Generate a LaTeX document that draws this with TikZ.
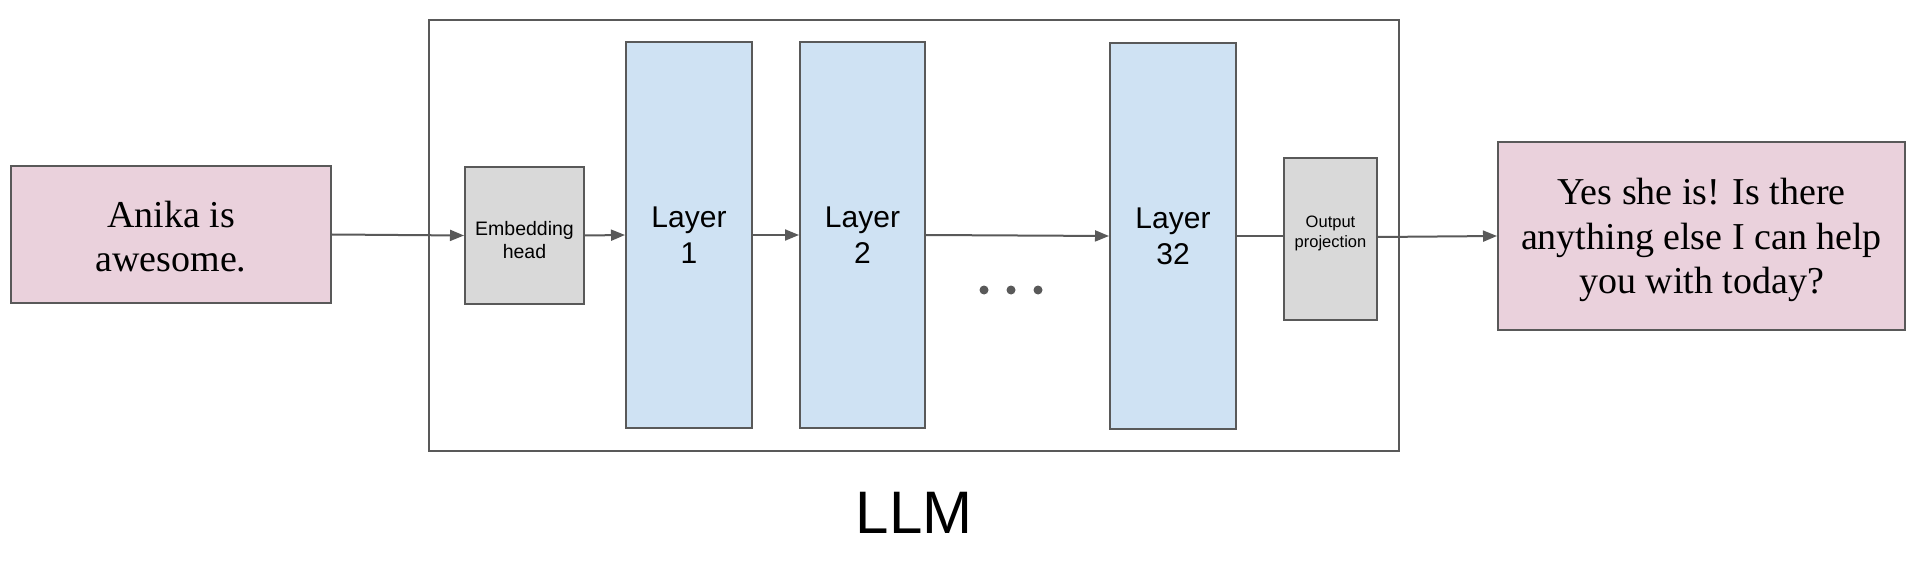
\documentclass[tikz,border=0pt]{standalone}
\usepackage{fontspec}
\setmainfont{Liberation Sans}
\newfontfamily\seriffont{Liberation Serif}
\usetikzlibrary{arrows.meta}
\definecolor{edgegray}{HTML}{595959}
\definecolor{pinkfill}{HTML}{EAD1DC}
\definecolor{bluefill}{HTML}{CFE2F3}
\definecolor{grayfill}{HTML}{D9D9D9}
\begin{document}
\begin{tikzpicture}[x=1pt,y=-1pt,
  box/.style={draw=edgegray, line width=2pt, inner sep=0pt, align=center},
  textbox/.style={box, fill=pinkfill, font=\seriffont\fontsize{38}{44.5}\selectfont},
  layerbox/.style={box, fill=bluefill, font=\fontsize{30}{36}\selectfont},
  smallbox/.style={box, fill=grayfill},
  dotnode/.style={circle, fill=edgegray, inner sep=0pt, minimum size=9pt},
  arr/.style={draw=edgegray, line width=2pt, -{Triangle[length=14pt,width=11pt]}},
  plainline/.style={draw=edgegray, line width=2pt},
]
\useasboundingbox (0,0) rectangle (1917,564);
\node[box, minimum width=970pt, minimum height=431pt] (llm) at (914,235.5) {};
\node[font=\fontsize{60}{72}\selectfont] (llmlabel) at (914,513) {LLM};
\node[textbox, minimum width=320pt, minimum height=137pt] (in) at (171,234.5) {\rule{0pt}{31pt}Anika is\\awesome.};
\node[smallbox, minimum width=119pt, minimum height=137pt, font=\fontsize{19.5}{23}\selectfont] (emb) at (524.5,235.5) {\rule{0pt}{24pt}Embedding\\head};
\node[layerbox, minimum width=126pt, minimum height=386pt] (l1) at (689,235) {Layer\\1};
\node[layerbox, minimum width=125pt, minimum height=386pt] (l2) at (862.5,235) {Layer\\2};
\node[layerbox, minimum width=126pt, minimum height=386pt] (l32) at (1173,236) {Layer\\32};
\node[smallbox, minimum width=93pt, minimum height=162pt, font=\fontsize{16.5}{20}\selectfont] (op) at (1330.5,239) {Output\\projection\rule[-14pt]{0pt}{0pt}};
\node[textbox, minimum width=407pt, minimum height=188pt] (out) at (1701.5,236) {\rule{0pt}{35pt}Yes she is! Is there\\anything else I can help\\you with today?};
\node[dotnode] (d1) at (984,290) {};
\node[dotnode] (d2) at (1011,290) {};
\node[dotnode] (d3) at (1038,290) {};
\draw[arr] (in.east) -- (emb.west);
\draw[arr] (emb.east) -- (l1.west);
\draw[arr] (l1.east) -- (l2.west);
\draw[arr] (l2.east) -- (l32.west);
\draw[plainline] (l32.east) -- (op.west |- l32.east);
\draw[arr] ([yshift=2pt]op.east) -- (out.west);
\end{tikzpicture}
\end{document}
